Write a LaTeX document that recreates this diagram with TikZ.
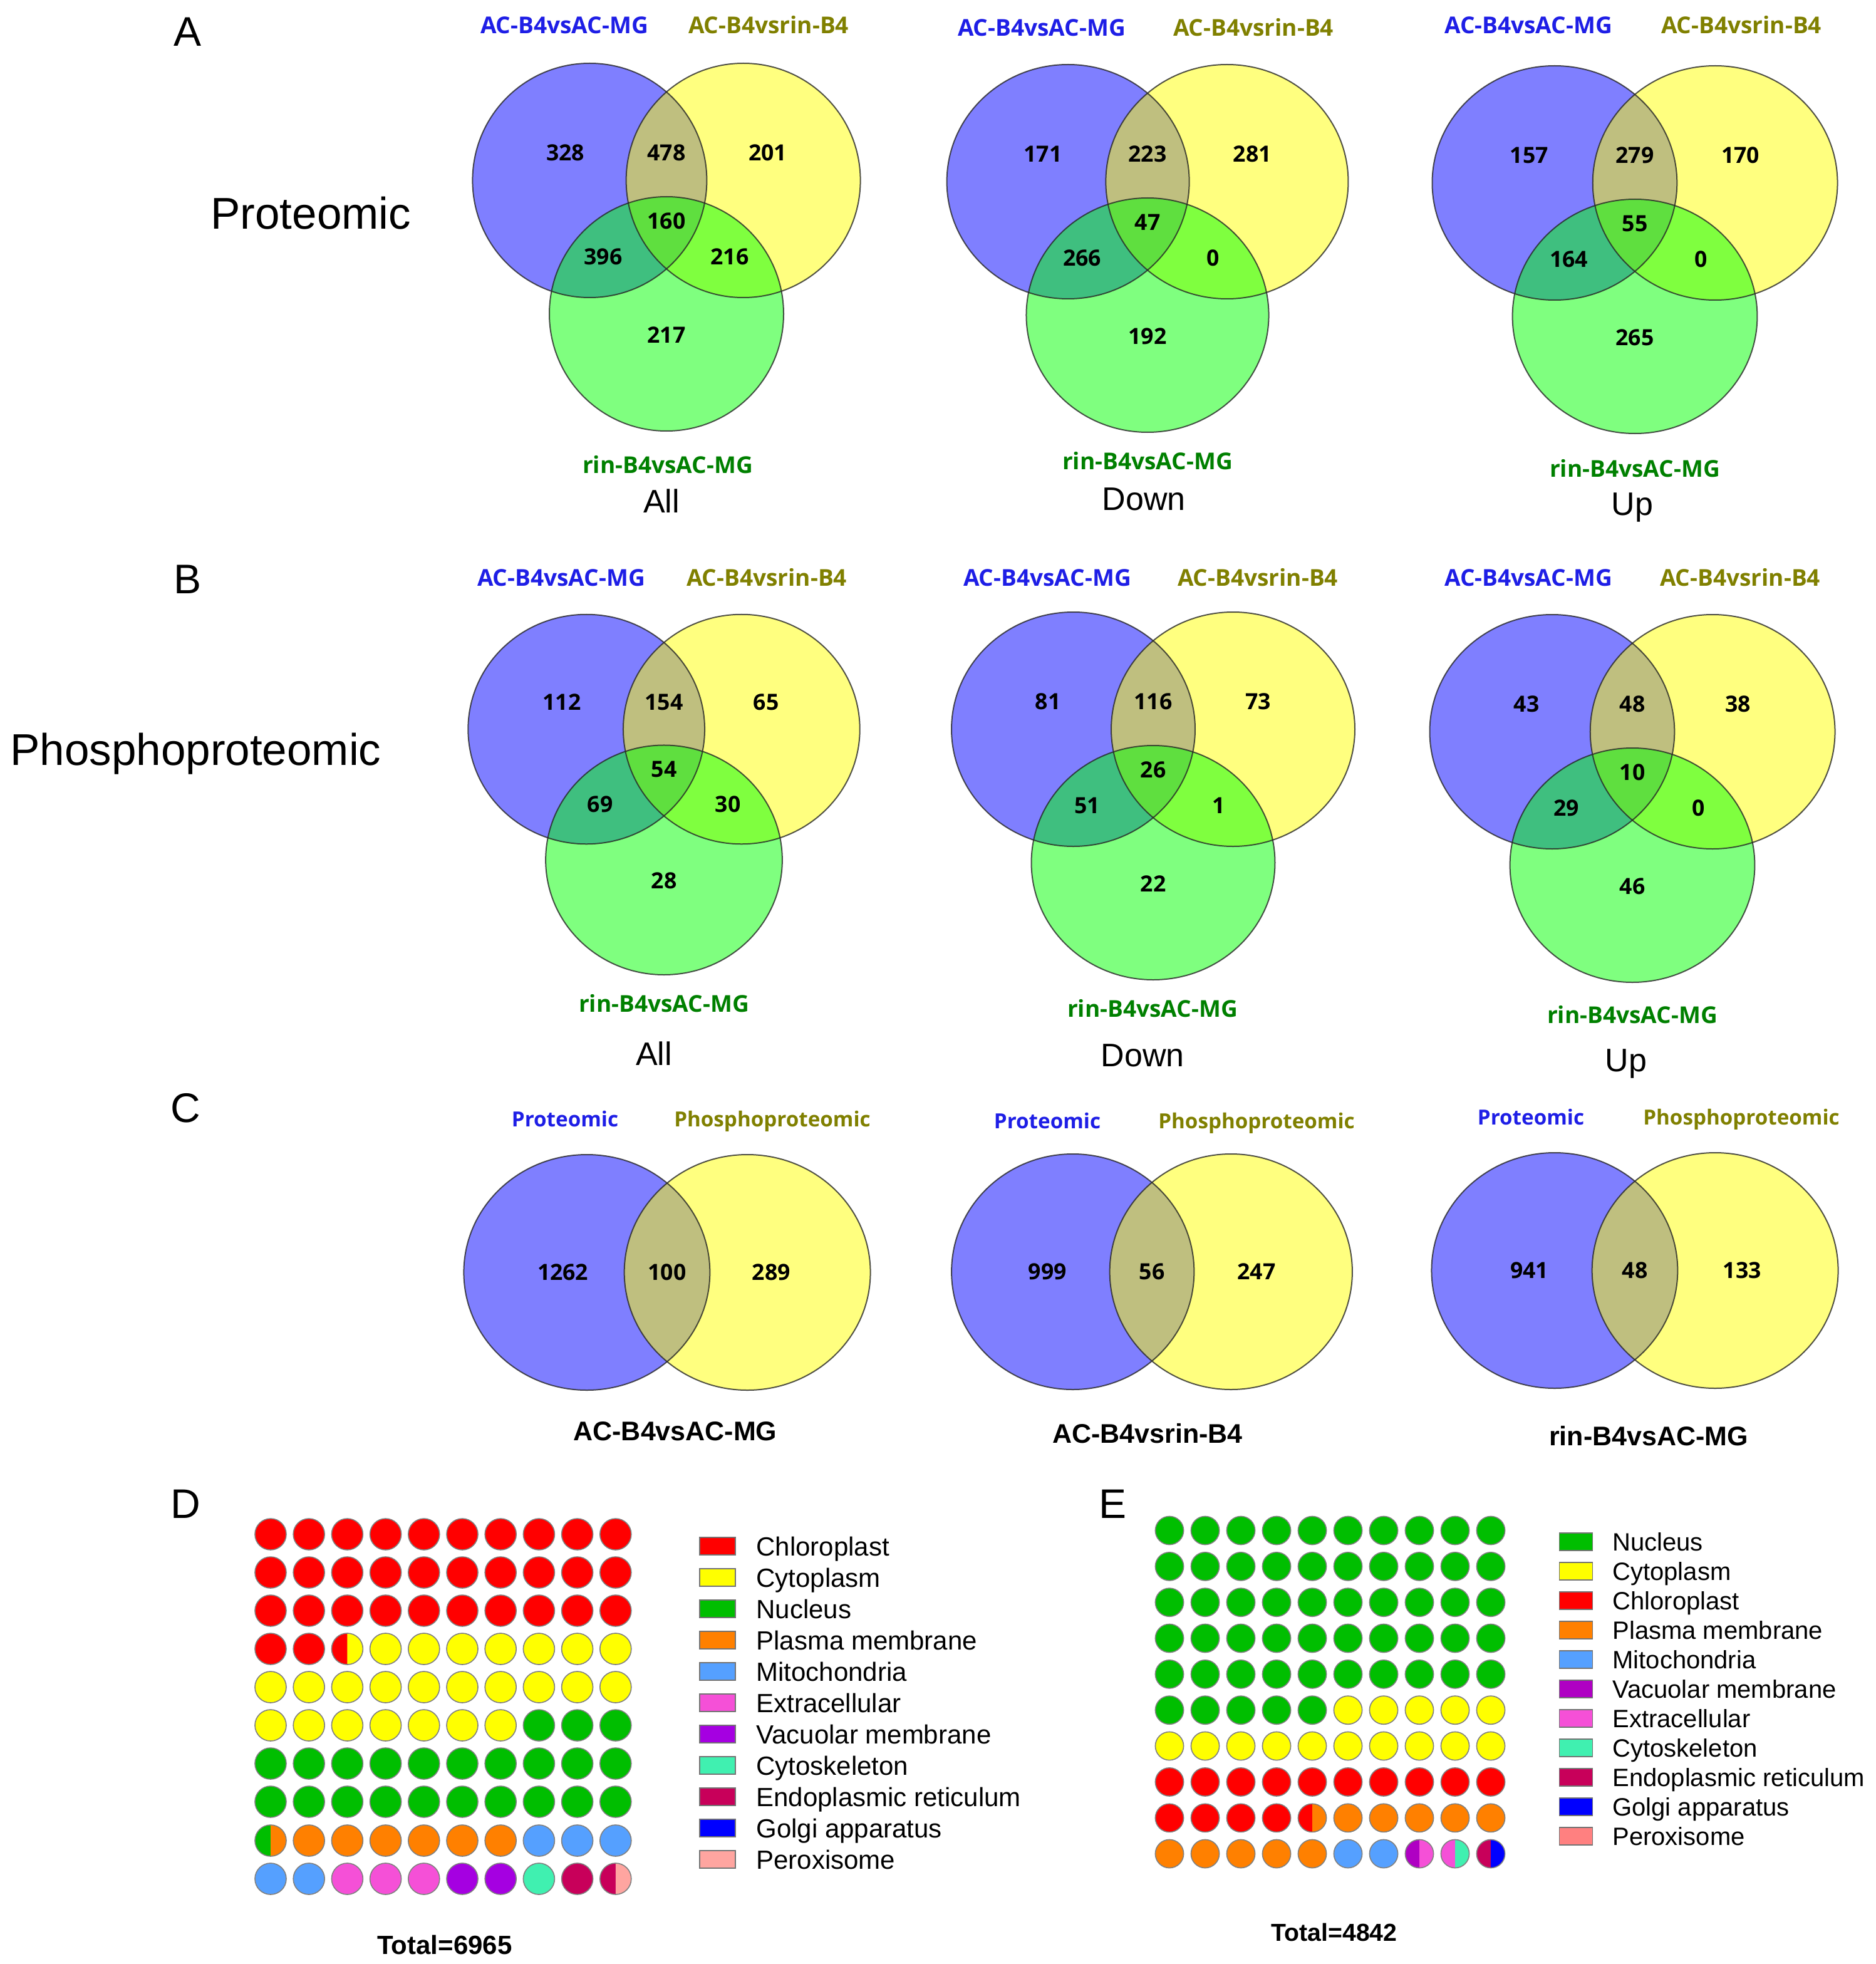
\documentclass[tikz,border=0pt]{standalone}
\usepackage{fontspec}
\setmainfont{Liberation Sans}
\newfontfamily\vfont{Open Sans}
\usepackage{tikz}
\definecolor{labB}{RGB}{30,30,230}
\definecolor{labY}{RGB}{128,128,0}
\definecolor{labG}{RGB}{0,128,0}
\definecolor{vB}{RGB}{0,0,255}
\definecolor{vY}{RGB}{255,255,0}
\definecolor{vG}{RGB}{0,255,0}
\definecolor{cR}{RGB}{255,0,0}
\definecolor{cY}{RGB}{255,255,0}
\definecolor{cN}{RGB}{0,190,0}
\definecolor{cO}{RGB}{255,128,0}
\definecolor{cM}{RGB}{85,160,255}
\definecolor{cX}{RGB}{245,80,215}
\definecolor{cV}{RGB}{165,0,225}
\definecolor{cW}{RGB}{175,0,195}
\definecolor{cS}{RGB}{64,240,176}
\definecolor{cE}{RGB}{200,0,90}
\definecolor{cG}{RGB}{0,0,255}
\definecolor{cP}{RGB}{255,165,160}
\definecolor{cQ}{RGB}{255,128,128}
\tikzset{
  vfill/.style={fill opacity=0.5},
  vline/.style={draw=black!85, draw opacity=0.8, line width=1pt},
  num/.style={font=\vfont\bfseries\fontsize{17.8}{20}\selectfont, text height=12.7pt, text depth=0pt, inner sep=0pt},
  lab/.style={font=\vfont\bfseries\fontsize{18.5}{21}\selectfont, text height=13.2pt, text depth=0pt, inner sep=0pt},
  clab/.style={font=\vfont\bfseries\fontsize{16.6}{19}\selectfont, text height=11.9pt, text depth=0pt, inner sep=0pt},
  side/.style={font=\fontsize{35.5}{40}\selectfont, text height=25.4pt, text depth=0pt, inner sep=0pt, anchor=west},
  panel/.style={font=\fontsize{33}{38}\selectfont, text height=23.6pt, text depth=0pt, inner sep=0pt},
  capt/.style={font=\fontsize{26}{30}\selectfont, text height=18.6pt, text depth=0pt, inner sep=0pt},
  bcapt/.style={font=\bfseries\fontsize{21.5}{25}\selectfont, text height=15.4pt, text depth=0pt, inner sep=0pt},
  leg/.style={font=\fontsize{21}{24}\selectfont, text height=15pt, text depth=0pt, inner sep=0pt, anchor=west},
  legE/.style={font=\fontsize{20}{24}\selectfont, text height=14.3pt, text depth=0pt, inner sep=0pt, anchor=west},
  sq/.style={draw=black!55, line width=0.8pt},
  dot/.style={draw=black!50, line width=0.8pt},
}
\newcommand\vthree{%
  \fill[vB,vfill] (-61.3,0) circle[radius=93.5pt];
  \fill[vY,vfill] (61.3,0) circle[radius=93.5pt];
  \fill[vG,vfill] (0,106.5) circle[radius=93.5pt];
  \draw[vline] (-61.3,0) circle[radius=93.5pt];
  \draw[vline] (61.3,0) circle[radius=93.5pt];
  \draw[vline] (0,106.5) circle[radius=93.5pt];
}
\newcommand\vtwo{%
  \fill[vB,vfill] (-61.3,0) circle[radius=94pt];
  \fill[vY,vfill] (61.3,0) circle[radius=94pt];
  \draw[vline] (-61.3,0) circle[radius=94pt];
  \draw[vline] (61.3,0) circle[radius=94pt];
}
% #1 prefix, then 7 numbers
\newcommand\vnums[8]{%
  \node[num] (#1n1) at (-80.75,-22) {#2};
  \node[num] (#1n2) at (0,-22) {#3};
  \node[num] (#1n3) at (80.75,-22) {#4};
  \node[num] (#1n4) at (0,32.5) {#5};
  \node[num] (#1n5) at (-50.5,61) {#6};
  \node[num] (#1n6) at (50.5,61) {#7};
  \node[num] (#1n7) at (0,123.5) {#8};
}
% waffle row: #1 x0, #2 y, #3 dx, #4 r, #5 list
\newcommand\wrow[5]{%
  \foreach \lc/\rc [count=\k from 0] in {#5} {
    \pgfmathsetmacro\xx{#1+#3*\k}
    \pgfmathsetmacro\yy{#2}
    \fill[\lc] (\xx,\yy) circle[radius=#4pt];
    \begin{scope}
      \clip (\xx,\yy-#4-2) rectangle (\xx+#4+2,\yy+#4+2);
      \fill[\rc] (\xx,\yy) circle[radius=#4pt];
    \end{scope}
    \draw[dot] (\xx,\yy) circle[radius=#4pt];
  }
}
\begin{document}
\begin{tikzpicture}[x=1pt,y=-1pt]
\fill[white] (0,0) rectangle (1497,1567.5);
\useasboundingbox (0,0) rectangle (1497,1567.5);

% panel letters and side titles
\node[panel] (pA) at (150,25) {A};
\node[panel] (pB) at (150,462) {B};
\node[panel] (pC) at (148,884) {C};
\node[panel] (pD) at (148,1200) {D};
\node[panel] (pE) at (888,1200) {E};
\node[side] (tProt) at (168,170) {Proteomic};
\node[side] (tPhos) at (8,598) {Phosphoproteomic};

% ---------- A ----------
\begin{scope}[shift={(532,144)}]
  \vthree \vnums{aa}{328}{478}{201}{160}{396}{216}{217}
\end{scope}
\node[lab,labB] (aaL1) at (450.5,20) {AC-B4vsAC-MG};
\node[lab,labY] (aaL2) at (613.5,20) {AC-B4vsrin-B4};
\node[lab,labG] (aaL3) at (533,371) {rin-B4vsAC-MG};
\node[capt] (aaC) at (528,400) {All};

\begin{scope}[shift={(916,145)},xscale=1.035]
  \vthree \vnums{ad}{171}{223}{281}{47}{266}{0}{192}
\end{scope}
\node[lab,labB] (adL1) at (831.5,22) {AC-B4vsAC-MG};
\node[lab,labY] (adL2) at (1000.5,22) {AC-B4vsrin-B4};
\node[lab,labG] (adL3) at (916,368) {rin-B4vsAC-MG};
\node[capt] (adC) at (913,398) {Down};

\begin{scope}[shift={(1305,146)},xscale=1.045]
  \vthree \vnums{au}{157}{279}{170}{55}{164}{0}{265}
\end{scope}
\node[lab,labB] (auL1) at (1220,20) {AC-B4vsAC-MG};
\node[lab,labY] (auL2) at (1390,20) {AC-B4vsrin-B4};
\node[lab,labG] (auL3) at (1305,374) {rin-B4vsAC-MG};
\node[capt] (auC) at (1303,402) {Up};

% ---------- B ----------
\begin{scope}[shift={(530,582)},xscale=1.01,yscale=0.98]
  \vthree \vnums{ba}{112}{154}{65}{54}{69}{30}{28}
\end{scope}
\node[lab,labB] (baL1) at (448,461) {AC-B4vsAC-MG};
\node[lab,labY] (baL2) at (612,461) {AC-B4vsrin-B4};
\node[lab,labG] (baL3) at (530,801) {rin-B4vsAC-MG};
\node[capt] (baC) at (522,841) {All};

\begin{scope}[shift={(920.5,582)},xscale=1.04]
  \vthree \vnums{bd}{81}{116}{73}{26}{51}{1}{22}
\end{scope}
\node[lab,labB] (bdL1) at (836,461) {AC-B4vsAC-MG};
\node[lab,labY] (bdL2) at (1004,461) {AC-B4vsrin-B4};
\node[lab,labG] (bdL3) at (920,805) {rin-B4vsAC-MG};
\node[capt] (bdC) at (912,842) {Down};

\begin{scope}[shift={(1303,584)},xscale=1.045]
  \vthree \vnums{bu}{43}{48}{38}{10}{29}{0}{46}
\end{scope}
\node[lab,labB] (buL1) at (1220,461) {AC-B4vsAC-MG};
\node[lab,labY] (buL2) at (1389,461) {AC-B4vsrin-B4};
\node[lab,labG] (buL3) at (1303,810) {rin-B4vsAC-MG};
\node[capt] (buC) at (1298,846) {Up};

% ---------- C ----------
\begin{scope}[shift={(532.5,1015.5)},xscale=1.045]
  \vtwo
  \node[num] (caN1) at (-79.6,0) {1262};
  \node[num] (caN2) at (0,0) {100};
  \node[num] (caN3) at (79.6,0) {289};
\end{scope}
\node[clab,labB] (caL1) at (451,893.5) {Proteomic};
\node[clab,labY] (caL2) at (616.5,893.5) {Phosphoproteomic};
\node[bcapt] (caC) at (539,1142) {AC-B4vsAC-MG};

\begin{scope}[shift={(919.5,1015)},xscale=1.03]
  \vtwo
  \node[num] (cdN1) at (-81,0) {999};
  \node[num] (cdN2) at (0,0) {56};
  \node[num] (cdN3) at (81,0) {247};
\end{scope}
\node[clab,labB] (cdL1) at (836,895) {Proteomic};
\node[clab,labY] (cdL2) at (1003,895) {Phosphoproteomic};
\node[bcapt] (cdC) at (916,1144) {AC-B4vsrin-B4};

\begin{scope}[shift={(1305,1014)},xscale=1.045]
  \vtwo
  \node[num] (cuN1) at (-80.5,0) {941};
  \node[num] (cuN2) at (0,0) {48};
  \node[num] (cuN3) at (82,0) {133};
\end{scope}
\node[clab,labB] (cuL1) at (1222,892) {Proteomic};
\node[clab,labY] (cuL2) at (1390,892) {Phosphoproteomic};
\node[bcapt] (cuC) at (1316,1146) {rin-B4vsAC-MG};

% ---------- D waffle ----------
\foreach \rr in {0,1,2} {
  \wrow{216}{1224.5+30.5*\rr}{30.6}{12.5}{cR/cR,cR/cR,cR/cR,cR/cR,cR/cR,cR/cR,cR/cR,cR/cR,cR/cR,cR/cR}
}
\wrow{216}{1316}{30.6}{12.5}{cR/cR,cR/cR,cR/cY,cY/cY,cY/cY,cY/cY,cY/cY,cY/cY,cY/cY,cY/cY}
\wrow{216}{1346.5}{30.6}{12.5}{cY/cY,cY/cY,cY/cY,cY/cY,cY/cY,cY/cY,cY/cY,cY/cY,cY/cY,cY/cY}
\wrow{216}{1377}{30.6}{12.5}{cY/cY,cY/cY,cY/cY,cY/cY,cY/cY,cY/cY,cY/cY,cN/cN,cN/cN,cN/cN}
\foreach \rr in {6,7} {
  \wrow{216}{1224.5+30.5*\rr}{30.6}{12.5}{cN/cN,cN/cN,cN/cN,cN/cN,cN/cN,cN/cN,cN/cN,cN/cN,cN/cN,cN/cN}
}
\wrow{216}{1469}{30.6}{12.5}{cN/cO,cO/cO,cO/cO,cO/cO,cO/cO,cO/cO,cO/cO,cM/cM,cM/cM,cM/cM}
\wrow{216}{1499.5}{30.6}{12.5}{cM/cM,cM/cM,cX/cX,cX/cX,cX/cX,cV/cV,cV/cV,cS/cS,cE/cE,cE/cP}

\foreach \c/\t [count=\k from 0] in {cR/Chloroplast,cY/Cytoplasm,cN/Nucleus,cO/Plasma membrane,cM/Mitochondria,cX/Extracellular,cV/Vacuolar membrane,cS/Cytoskeleton,cE/Endoplasmic reticulum,cG/Golgi apparatus,cP/Peroxisome} {
  \pgfmathsetmacro\yy{1234+25*\k}
  \draw[sq,fill=\c] (558.5,\yy-7) rectangle (587,\yy+7);
  \node[leg] (dL\k) at (603.5,\yy) {\t};
}
\node[bcapt,font=\bfseries\fontsize{21}{25}\selectfont] (dT) at (355,1552) {Total=6965};

% ---------- E waffle ----------
\foreach \rr in {0,1,2,3,4} {
  \wrow{933.5}{1221.5+28.67*\rr}{28.5}{11.3}{cN/cN,cN/cN,cN/cN,cN/cN,cN/cN,cN/cN,cN/cN,cN/cN,cN/cN,cN/cN}
}
\wrow{933.5}{1364.85}{28.5}{11.3}{cN/cN,cN/cN,cN/cN,cN/cN,cN/cN,cY/cY,cY/cY,cY/cY,cY/cY,cY/cY}
\wrow{933.5}{1393.5}{28.5}{11.3}{cY/cY,cY/cY,cY/cY,cY/cY,cY/cY,cY/cY,cY/cY,cY/cY,cY/cY,cY/cY}
\wrow{933.5}{1422.2}{28.5}{11.3}{cR/cR,cR/cR,cR/cR,cR/cR,cR/cR,cR/cR,cR/cR,cR/cR,cR/cR,cR/cR}
\wrow{933.5}{1450.9}{28.5}{11.3}{cR/cR,cR/cR,cR/cR,cR/cR,cR/cO,cO/cO,cO/cO,cO/cO,cO/cO,cO/cO}
\wrow{933.5}{1479.5}{28.5}{11.3}{cO/cO,cO/cO,cO/cO,cO/cO,cO/cO,cM/cM,cM/cM,cW/cX,cX/cS,cE/cG}

\foreach \c/\t [count=\k from 0] in {cN/Nucleus,cY/Cytoplasm,cR/Chloroplast,cO/Plasma membrane,cM/Mitochondria,cW/Vacuolar membrane,cX/Extracellular,cS/Cytoskeleton,cE/Endoplasmic reticulum,cG/Golgi apparatus,cQ/Peroxisome} {
  \pgfmathsetmacro\yy{1230.5+23.5*\k}
  \draw[sq,fill=\c] (1244.7,\yy-6.9) rectangle (1271.3,\yy+6.9);
  \node[legE] (eL\k) at (1287,\yy) {\t};
}
\node[bcapt,font=\bfseries\fontsize{19.6}{24}\selectfont,text height=14pt] (eT) at (1065,1542) {Total=4842};
\end{tikzpicture}
\end{document}
